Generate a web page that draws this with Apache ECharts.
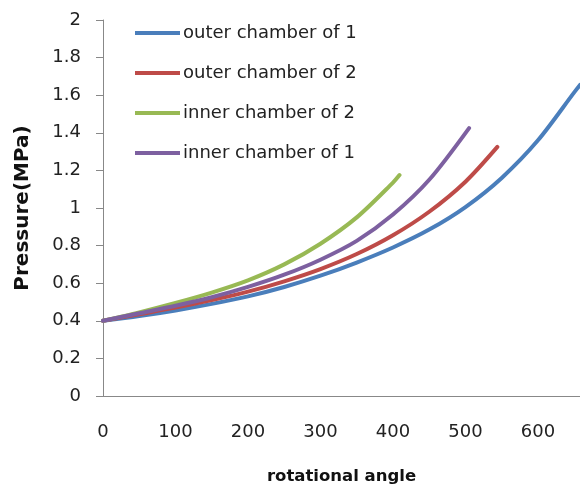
<!DOCTYPE html>
<html><head><meta charset="utf-8">
<script src="https://cdn.jsdelivr.net/npm/echarts@6/dist/echarts.min.js"></script>
<style>html,body{margin:0;padding:0;background:#fff}#c{width:580px;height:485px}</style>
</head><body><div id="c"></div>
<script>
const seriesNames = ['outer chamber of 1','outer chamber of 2','inner chamber of 2','inner chamber of 1'];
const outer1 = [[0,0.40],[50,0.425],[100,0.455],[150,0.49],[200,0.53],[250,0.58],[300,0.64],[350,0.71],[400,0.79],[450,0.885],[500,1.005],[550,1.16],[600,1.36],[650,1.615],[658,1.655]];
const outer2 = [[0,0.40],[50,0.435],[100,0.47],[150,0.51],[200,0.555],[250,0.61],[300,0.675],[350,0.755],[400,0.855],[450,0.98],[500,1.14],[544,1.325]];
const inner2 = [[0,0.40],[50,0.445],[100,0.495],[150,0.55],[200,0.615],[250,0.70],[300,0.81],[350,0.95],[400,1.135],[409,1.175]];
const inner1 = [[0,0.40],[50,0.44],[100,0.48],[150,0.525],[200,0.58],[250,0.645],[300,0.725],[350,0.825],[400,0.965],[450,1.15],[505,1.425]];
const xTicks = {min:0, max:658, interval:100};
const yTicks = {min:0, max:2, interval:0.2};
const colors = ['#4A7EBB','#BE4B48','#98B954','#7D60A0'];
const data = [outer1, outer2, inner2, inner1];

const chart = echarts.init(document.getElementById('c'));
chart.setOption({
  animation:false,
  color: colors,
  grid:{left:103, right:0, top:20, bottom:89, containLabel:false, outerBoundsMode:'none'},
  legend:{
    orient:'vertical', left:135, top:23, padding:0, itemWidth:45, itemHeight:4, itemGap:20,
    icon:'rect',
    textStyle:{fontFamily:'DejaVu Sans', fontSize:18, color:'#222', lineHeight:20, padding:[0,0,0,-2]},
    data: seriesNames
  },
  xAxis:{
    type:'value', min:xTicks.min, max:xTicks.max, interval:xTicks.interval,
    name:'rotational angle', nameLocation:'middle', nameGap:72,
    nameTextStyle:{fontFamily:'DejaVu Sans', fontWeight:'bold', fontSize:16.5, color:'#111'},
    axisLine:{show:true, lineStyle:{color:'#888', width:1}},
    axisTick:{show:false},
    splitLine:{show:false},
    axisLabel:{showMaxLabel:false, margin:27, fontFamily:'DejaVu Sans', fontSize:18, color:'#222'}
  },
  yAxis:{
    type:'value', min:yTicks.min, max:yTicks.max, interval:yTicks.interval,
    name:'Pressure(MPa)', nameLocation:'middle', nameGap:70, nameRotate:90,
    nameTextStyle:{fontFamily:'DejaVu Sans', fontWeight:'bold', fontSize:20, color:'#111'},
    axisLine:{show:true, lineStyle:{color:'#888', width:1}},
    axisTick:{show:true, length:7, lineStyle:{color:'#888'}},
    splitLine:{show:false},
    axisLabel:{margin:22, fontFamily:'DejaVu Sans', fontSize:18, color:'#222'}
  },
  series: data.map((d,i)=>({
    name: seriesNames[i], type:'line', data:d, smooth:0.3, showSymbol:false, symbol:'none',
    lineStyle:{width:4, color:colors[i], cap:'round'}, clip:true
  }))
});
</script></body></html>
